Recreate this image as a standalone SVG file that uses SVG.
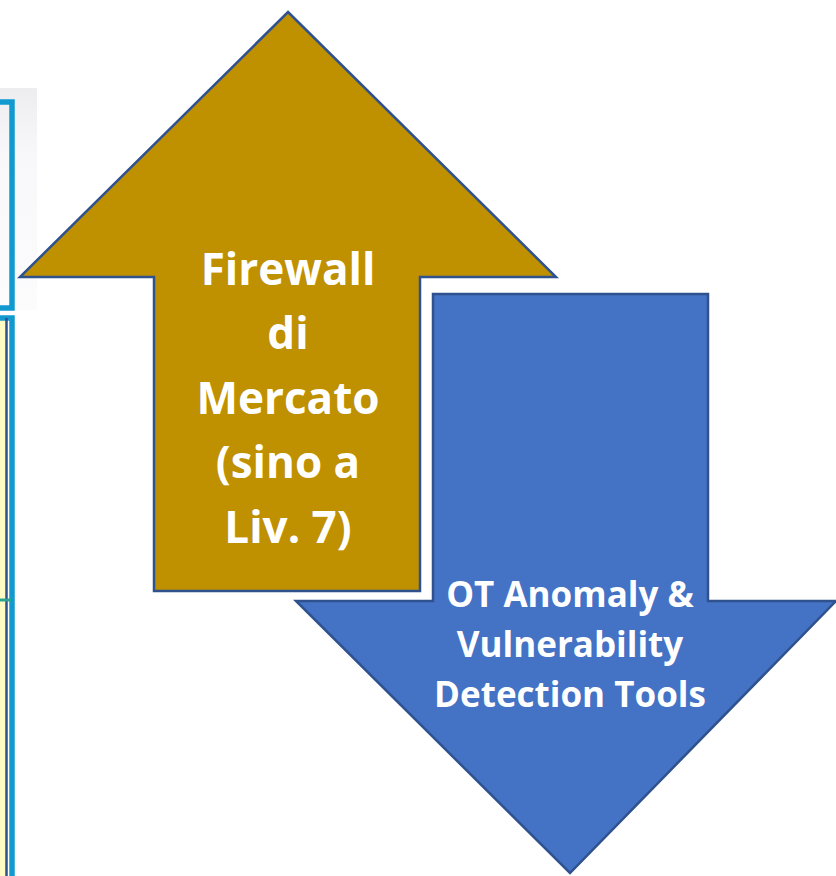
<svg xmlns="http://www.w3.org/2000/svg" width="836" height="876" viewBox="0 0 836 876">
  <style>
    .arrow { stroke: #2F528F; stroke-width: 2.5; stroke-linejoin: miter; }
    .up { fill: #BF9000; }
    .down { fill: #4472C4; }
    .label { fill: #FFFFFF; font-family: "Open Sans", "Liberation Sans", sans-serif; font-weight: 700; text-anchor: middle; }
    .big { font-size: 44px; }
    .small { font-size: 35px; }
    .frame { fill: none; stroke: #129AD0; stroke-width: 5.5; }
  </style>

  <defs>
    <linearGradient id="shade" x1="0" y1="0" x2="0" y2="1">
      <stop offset="0" stop-color="#EDEDF0"/>
      <stop offset="0.3" stop-color="#F8F8FA"/>
      <stop offset="1" stop-color="#FCFCFD"/>
    </linearGradient>
  </defs>

  <rect width="836" height="876" fill="#FFFFFF"/>

  <!-- edge of neighbouring panels on the left -->
  <g id="side-panels">
    <rect x="0" y="88" width="37" height="222" fill="url(#shade)"/>
    <rect x="-10" y="102" width="22" height="206" fill="#FAFAFB" class="frame"/>
    <rect x="0" y="318" width="6" height="560" fill="#FFFBC2"/>
    <rect x="-10" y="318" width="22" height="600" class="frame"/>
    <line x1="6.5" y1="318" x2="6.5" y2="876" stroke="#2F4F8F" stroke-width="2.5"/>
    <line x1="0" y1="600" x2="11" y2="600" stroke="#2AA390" stroke-width="3"/>
  </g>

  <!-- upward arrow: market firewall -->
  <g id="firewall">
    <polygon class="arrow up" points="288,12 556,277 420,277 420,591 154,591 154,277 20,277"/>
    <text class="label big" x="288" y="285">Firewall</text>
    <text class="label big" x="288" y="349">di</text>
    <text class="label big" x="288" y="414">Mercato</text>
    <text class="label big" x="288" y="478">(sino a</text>
    <text class="label big" x="288" y="543">Liv. 7)</text>
  </g>

  <!-- downward arrow: OT detection tools -->
  <g id="ot-tools">
    <polygon class="arrow down" points="433,294 708,294 708,601 836,601 570,873 296,601 433,601"/>
    <text class="label small" x="570" y="607">OT Anomaly &amp;</text>
    <text class="label small" x="570" y="657">Vulnerability</text>
    <text class="label small" x="570" y="707">Detection Tools</text>
  </g>

  <g id="connectors"></g>
</svg>
